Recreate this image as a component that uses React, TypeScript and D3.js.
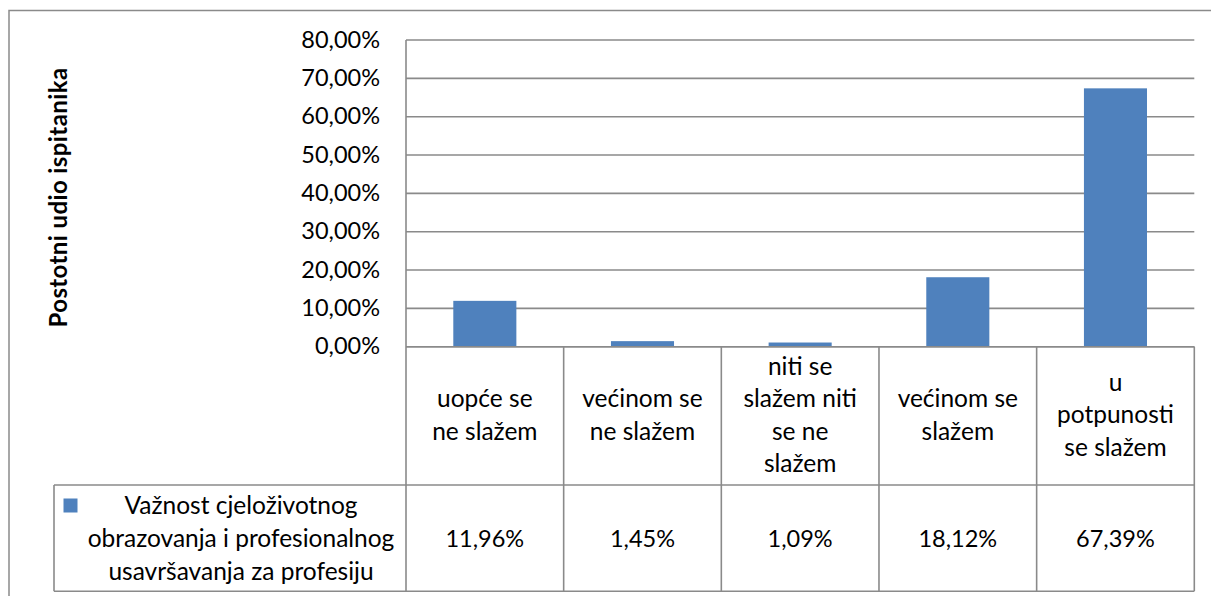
import React, { useEffect, useRef } from 'react';
import * as d3 from 'd3';

const categories = [
  'uopće se\nne slažem',
  'većinom se\nne slažem',
  'niti se\nslažem niti\nse ne\nslažem',
  'većinom se\nslažem',
  'u\npotpunosti\nse slažem',
];
const values = [11.96, 1.45, 1.09, 18.12, 67.39];
const yTicks = [0, 10, 20, 30, 40, 50, 60, 70, 80];
const seriesName = 'Važnost cjeloživotnog\nobrazovanja i profesionalnog\nusavršavanja za profesiju';
const yTitle = 'Postotni udio ispitanika';

const W = 1211;
const H = 596;
const FONT = 'Lato, "Open Sans", sans-serif';
const GRID = '#8a8a8a';
const BAR = '#4f81bd';

const hr = d3.formatLocale({ decimal: ',', thousands: '.', grouping: [3], currency: ['', ''] });
const pct = (v: number) => hr.format('.2f')(v) + '%';

const App: React.FC = () => {
  const svgRef = useRef<SVGSVGElement>(null);

  useEffect(() => {
    if (!svgRef.current) return;
    const svg = d3.select(svgRef.current);
    svg.selectAll('*').remove();

    const plot = { left: 406, right: 1194.3, top: 40, bottom: 346.7 };
    const table = { legendLeft: 54, rowSplit: 485, bottom: 591.2 };
    const lineH = 32.3;
    const numSize = 23.5;
    const textSize = 24.5;

    const x = d3
      .scaleBand<string>()
      .domain(categories)
      .range([plot.left, plot.right])
      .paddingInner(0)
      .paddingOuter(0);

    const y = d3.scaleLinear().domain([0, 80]).range([plot.bottom, plot.top]);
    const barW = x.bandwidth() / 2.5;

    // outer frame
    svg
      .append('path')
      .attr('d', `M9,${H + 5} V10.5 H${W + 5}`)
      .attr('fill', 'none')
      .attr('stroke', GRID)
      .attr('stroke-width', 1.5);

    // gridlines
    svg
      .append('g')
      .selectAll('line')
      .data(yTicks)
      .join('line')
      .attr('x1', plot.left)
      .attr('x2', plot.right)
      .attr('y1', (d) => y(d))
      .attr('y2', (d) => y(d))
      .attr('stroke', GRID)
      .attr('stroke-width', 1.6);

    // tick labels
    svg
      .append('g')
      .selectAll('text')
      .data(yTicks)
      .join('text')
      .attr('x', 380)
      .attr('y', (d) => y(d) + 7.5)
      .attr('text-anchor', 'end')
      .attr('font-family', FONT)
      .attr('font-size', numSize)
      .attr('fill', '#000')
      .text((d) => pct(d));

    // y title
    svg
      .append('text')
      .attr('transform', `translate(67,197.5) rotate(-90)`)
      .attr('text-anchor', 'middle')
      .attr('font-family', FONT)
      .attr('font-weight', 700)
      .attr('font-size', 24)
      .attr('letter-spacing', 0.4)
      .attr('fill', '#000')
      .text(yTitle);

    // bars
    svg
      .append('g')
      .selectAll('rect')
      .data(values)
      .join('rect')
      .attr('x', (_, i) => (x(categories[i]) || 0) + x.bandwidth() / 2 - barW / 2)
      .attr('width', barW)
      .attr('y', (d) => y(d))
      .attr('height', (d) => y(0) - y(d))
      .attr('fill', BAR);

    // data table lines
    const tbl = svg.append('g').attr('stroke', GRID).attr('stroke-width', 1.6);
    tbl
      .append('line')
      .attr('x1', plot.left)
      .attr('x2', plot.right)
      .attr('y1', plot.bottom)
      .attr('y2', plot.bottom);
    tbl
      .append('line')
      .attr('x1', table.legendLeft)
      .attr('x2', plot.right)
      .attr('y1', table.rowSplit)
      .attr('y2', table.rowSplit);
    tbl
      .append('line')
      .attr('x1', table.legendLeft)
      .attr('x2', plot.right)
      .attr('y1', table.bottom)
      .attr('y2', table.bottom);
    tbl
      .append('line')
      .attr('x1', table.legendLeft)
      .attr('x2', table.legendLeft)
      .attr('y1', table.rowSplit)
      .attr('y2', table.bottom);
    tbl
      .append('line')
      .attr('x1', plot.left)
      .attr('x2', plot.left)
      .attr('y1', plot.top)
      .attr('y2', table.bottom);
    tbl
      .selectAll('.col')
      .data(categories)
      .join('line')
      .attr('class', 'col')
      .attr('x1', (d) => (x(d) || 0) + x.bandwidth())
      .attr('x2', (d) => (x(d) || 0) + x.bandwidth())
      .attr('y1', plot.bottom)
      .attr('y2', table.bottom);

    // category labels
    const catMid = (plot.bottom + table.rowSplit) / 2;
    const catG = svg
      .append('g')
      .attr('font-family', FONT)
      .attr('font-size', textSize)
      .attr('text-anchor', 'middle')
      .attr('fill', '#000');
    categories.forEach((c) => {
      const lines = c.split('\n');
      const cx = (x(c) || 0) + x.bandwidth() / 2;
      lines.forEach((ln, i) => {
        catG
          .append('text')
          .attr('x', cx)
          .attr('y', catMid + 7.5 + (i - (lines.length - 1) / 2) * lineH)
          .text(ln);
      });
    });

    // values row
    const valMid = (table.rowSplit + table.bottom) / 2;
    svg
      .append('g')
      .selectAll('text')
      .data(values)
      .join('text')
      .attr('x', (_, i) => (x(categories[i]) || 0) + x.bandwidth() / 2)
      .attr('y', valMid + 8.5)
      .attr('text-anchor', 'middle')
      .attr('font-family', FONT)
      .attr('font-size', numSize)
      .attr('fill', '#000')
      .text((d) => pct(d));

    // legend key + series name
    svg
      .append('rect')
      .attr('x', 63.5)
      .attr('y', 498.5)
      .attr('width', 14)
      .attr('height', 14)
      .attr('fill', BAR);

    const nameLines = seriesName.split('\n');
    const legG = svg
      .append('g')
      .attr('font-family', FONT)
      .attr('font-size', textSize)
      .attr('text-anchor', 'middle')
      .attr('fill', '#000');
    nameLines.forEach((ln, i) => {
      legG
        .append('text')
        .attr('x', 241)
        .attr('y', valMid + 8.5 + (i - (nameLines.length - 1) / 2) * 33)
        .text(ln);
    });
  }, []);

  return (
    <svg
      ref={svgRef}
      width={W}
      height={H}
      style={{ position: 'absolute', left: 0, top: 0, background: '#fff' }}
    />
  );
};

export default App;
